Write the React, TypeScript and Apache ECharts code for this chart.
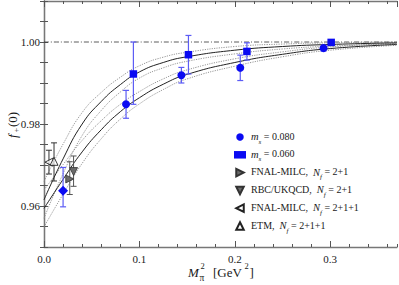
import React, { useEffect, useRef } from "react";
import * as echarts from "echarts";

const FONT = "Liberation Serif";

// ---- data ----
const ms080X = [0.02, 0.086, 0.144, 0.2057, 0.293];
const ms080Y = [0.9637, 0.9848, 0.9919, 0.9937, 0.9985];
const ms080Lo = [0.9598, 0.9814, 0.99, 0.9906, 0.9978];
const ms080Hi = [0.9694, 0.9882, 0.9938, 0.9968, 0.9992];

const ms060X = [0.0937, 0.1514, 0.2127, 0.301];
const ms060Y = [0.9922, 0.9969, 0.9977, 0.9999];
const ms060Lo = [0.9848, 0.9922, 0.9956, 0.9995];
const ms060Hi = [1.0, 1.0016, 0.9998, 1.0003];

const fnal21X = [0.027];
const fnal21Y = [0.9666];
const fnal21Lo = [0.9628];
const fnal21Hi = [0.9708];

const rbcX = [0.031];
const rbcY = [0.9684];
const rbcLo = [0.9648];
const rbcHi = [0.9722];

const fnal211X = [0.0052];
const fnal211Y = [0.9707];
const fnal211Lo = [0.9678];
const fnal211Hi = [0.9736];

const etmX = [0.0105];
const etmY = [0.9709];
const etmLo = [0.9661];
const etmHi = [0.9754];

const curveX = [0, 0.02, 0.04, 0.06, 0.08, 0.1, 0.125, 0.15, 0.2, 0.25, 0.3, 0.37];
const fitLow = [0.9594, 0.9665, 0.9732, 0.9786, 0.983, 0.9864, 0.9897, 0.9921, 0.995, 0.997, 0.9984, 0.9994];
const fitLowUp = [0.9639, 0.9701, 0.976, 0.9808, 0.9848, 0.9879, 0.991, 0.9932, 0.9959, 0.9976, 0.9988, 0.9996];
const fitLowDn = [0.9549, 0.9629, 0.9704, 0.9764, 0.9812, 0.9849, 0.9884, 0.991, 0.9941, 0.9964, 0.998, 0.9992];
const fitHigh = [0.9615, 0.9715, 0.98, 0.9855, 0.9896, 0.9927, 0.995, 0.9964, 0.998, 0.9989, 0.9994, 0.9998];
const fitHighUp = [0.966, 0.9751, 0.9828, 0.9877, 0.9914, 0.9942, 0.9963, 0.9975, 0.9989, 0.9995, 0.9998, 1.0];
const fitHighDn = [0.957, 0.9679, 0.9772, 0.9833, 0.9878, 0.9912, 0.9937, 0.9953, 0.9971, 0.9983, 0.999, 0.9996];

const unityX = [0, 0.37];
const unityY = [1.0, 1.0];

const legendNames = ["ms080", "ms060", "fnal21", "rbc", "fnal211", "etm"];
const legendLabels: Record<string, string> = {
  ms080: "{i|m}{s|s}{n| = 0.080}",
  ms060: "{i|m}{s|s}{n| = 0.060}",
  fnal21: "{n|FNAL-MILC,  }{i|N}{s|f}{n| = 2+1}",
  rbc: "{n|RBC/UKQCD,  }{i|N}{s|f}{n| = 2+1}",
  fnal211: "{n|FNAL-MILC,  }{i|N}{s|f}{n| = 2+1+1}",
  etm: "{n|ETM,  }{i|N}{s|f}{n| = 2+1+1}",
};

const RIGHT_TRI = "path://M0,0L10,5L0,10Z";
const LEFT_TRI = "path://M10,0L0,5L10,10Z";
const DOWN_TRI = "path://M0,0L10,0L5,10Z";
const UP_TRI = "path://M5,0L10,10L0,10Z";

const BLUE = "#0a0af2";
const BLUE_ERR = "#5c5cf5";
const TEXT = "#1a1a1a";

function errorSeries(xs: number[], ys: number[], lo: number[], hi: number[], color: string, cap: number, width: number) {
  return {
    type: "custom",
    silent: true,
    z: 3,
    data: xs.map((x, i) => [x, ys[i], lo[i], hi[i]]),
    encode: { x: 0, y: 1 },
    renderItem: (params: any, api: any) => {
      const top = api.coord([api.value(0), api.value(3)]);
      const bot = api.coord([api.value(0), api.value(2)]);
      const h = cap / 2;
      const st = { stroke: color, lineWidth: width };
      return {
        type: "group",
        children: [
          { type: "line", shape: { x1: top[0], y1: top[1], x2: bot[0], y2: bot[1] }, style: st },
          { type: "line", shape: { x1: top[0] - h, y1: top[1], x2: top[0] + h, y2: top[1] }, style: st },
          { type: "line", shape: { x1: bot[0] - h, y1: bot[1], x2: bot[0] + h, y2: bot[1] }, style: st },
        ],
      };
    },
  };
}

function lineSeries(xs: number[], ys: number[], color: string, width: number, type: any) {
  return {
    type: "line",
    data: xs.map((x, i) => [x, ys[i]]),
    showSymbol: false,
    symbol: "none",
    smooth: 0.5,
    silent: true,
    z: 1,
    lineStyle: { color, width, type },
  };
}

export default function App() {
  const ref = useRef<HTMLDivElement>(null);
  useEffect(() => {
    if (!ref.current) return;
    const chart = echarts.init(ref.current, undefined, { renderer: "svg" });
    const axisLine = { show: true, lineStyle: { color: "#777", width: 1.3 } };
    const tickStyle = { color: "#555", width: 1 };
    const yFmt = (v: number) => {
      const c = Math.round(v * 100);
      if (Math.abs(v * 100 - c) < 1e-6 && c % 2 === 0 && c >= 96 && c <= 100) return (c / 100).toFixed(2);
      return "";
    };
    const txt = (text: string, x: number, y: number, size: number, italic = false) => {
      const style: any = { text, fontFamily: FONT, fontSize: size, fill: TEXT, verticalAlign: "middle" };
      if (italic) style.fontStyle = "italic";
      return { type: "text", x, y, style };
    };
    const option: any = {
      animation: false,
      textStyle: { fontFamily: FONT },
      grid: { left: 44, right: 2, top: 1, bottom: 38 },
      xAxis: [
        {
          type: "value", min: 0, max: 0.37, interval: 0.1, position: "bottom",
          axisLine, splitLine: { show: false },
          axisTick: { show: true, inside: true, length: 6, lineStyle: tickStyle },
          axisLabel: { margin: 6, fontFamily: FONT, fontSize: 11, color: TEXT, formatter: (v: number) => v.toFixed(1), showMaxLabel: false },
        },
        {
          type: "value", min: 0, max: 0.37, interval: 0.02, position: "bottom",
          axisLine: { show: false }, splitLine: { show: false }, axisLabel: { show: false },
          axisTick: { show: true, inside: true, length: 3, lineStyle: tickStyle },
        },
        {
          type: "value", min: 0, max: 0.37, interval: 0.1, position: "top",
          axisLine, splitLine: { show: false }, axisLabel: { show: false },
          axisTick: { show: true, inside: true, length: 6, lineStyle: tickStyle },
        },
        {
          type: "value", min: 0, max: 0.37, interval: 0.02, position: "top",
          axisLine: { show: false }, splitLine: { show: false }, axisLabel: { show: false },
          axisTick: { show: true, inside: true, length: 3, lineStyle: tickStyle },
        },
      ],
      yAxis: [
        {
          type: "value", min: 0.95, max: 1.01, interval: 0.005, position: "left",
          axisLine, splitLine: { show: false },
          axisTick: { show: true, inside: true, length: 4, lineStyle: tickStyle },
          axisLabel: { margin: 4, fontFamily: FONT, fontSize: 11, color: TEXT, formatter: yFmt },
        },
        {
          type: "value", min: 0.95, max: 1.01, interval: 0.005, position: "right",
          axisLine, splitLine: { show: false }, axisLabel: { show: false },
          axisTick: { show: true, inside: true, length: 4, lineStyle: tickStyle },
        },
      ],
      legend: {
        orient: "vertical",
        left: 229,
        top: 126,
        itemWidth: 12,
        itemHeight: 7.5,
        itemGap: 3.8,
        selectedMode: false,
        data: legendNames,
        formatter: (name: string) => legendLabels[name],
        textStyle: {
          fontFamily: FONT,
          fontSize: 10,
          color: TEXT,
          rich: {
            n: { fontFamily: FONT, fontSize: 10, lineHeight: 12, verticalAlign: "top", color: TEXT },
            i: { fontFamily: FONT, fontSize: 10.5, fontStyle: "italic", lineHeight: 12, verticalAlign: "top", color: TEXT },
            s: { fontFamily: FONT, fontSize: 7, fontStyle: "italic", lineHeight: 7, padding: [7, 0, 0, 0], verticalAlign: "top", color: TEXT },
          },
        },
      },
      graphic: [
        txt("M", 188, 272, 13, true),
        txt("π", 199.5, 277.5, 9.5),
        txt("2", 200.5, 265.5, 8.5),
        txt("[GeV", 213, 272, 13),
        txt("2", 244.5, 266, 8.5),
        txt("]", 249.5, 272, 13),
        {
          type: "group", x: 12, y: 124, rotation: Math.PI / 2,
          children: [
            txt("f", -14, 0, 13, true),
            txt("+", -8.5, 4, 8.5),
            txt("(0)", -3, 0, 13),
          ],
        },
      ],
      series: [
        lineSeries(unityX, unityY, "#333", 0.8, [5, 2, 1, 2]),
        lineSeries(curveX, fitLowUp, "#8a8a8a", 0.9, [1.2, 1.2]),
        lineSeries(curveX, fitLowDn, "#8a8a8a", 0.9, [1.2, 1.2]),
        lineSeries(curveX, fitHighUp, "#8a8a8a", 0.9, [1.2, 1.2]),
        lineSeries(curveX, fitHighDn, "#8a8a8a", 0.9, [1.2, 1.2]),
        lineSeries(curveX, fitLow, "#222", 1, "solid"),
        lineSeries(curveX, fitHigh, "#222", 1, "solid"),
        errorSeries(ms080X, ms080Y, ms080Lo, ms080Hi, BLUE_ERR, 6, 1.2),
        errorSeries(ms060X, ms060Y, ms060Lo, ms060Hi, BLUE_ERR, 6, 1.2),
        errorSeries(fnal21X, fnal21Y, fnal21Lo, fnal21Hi, "#555", 6, 1),
        errorSeries(rbcX, rbcY, rbcLo, rbcHi, "#555", 6, 1),
        errorSeries(fnal211X, fnal211Y, fnal211Lo, fnal211Hi, "#333", 6, 1),
        errorSeries(etmX, etmY, etmLo, etmHi, "#333", 6, 1),
        {
          name: "ms080", type: "scatter", z: 5, symbol: "circle", symbolSize: 8,
          itemStyle: { color: BLUE, opacity: 1 },
          data: ms080X.map((x, i) => ({ value: [x, ms080Y[i]], symbol: i === 0 ? "diamond" : "circle", symbolSize: i === 0 ? 10 : 8 })),
        },
        {
          name: "ms060", type: "scatter", z: 5, symbol: "rect", symbolSize: 7.5,
          itemStyle: { color: BLUE, opacity: 1 },
          data: ms060X.map((x, i) => [x, ms060Y[i]]),
        },
        {
          name: "fnal21", type: "scatter", z: 5, symbol: RIGHT_TRI, symbolSize: 8,
          itemStyle: { color: "#6a6a6a", borderColor: "#333", borderWidth: 0.8, opacity: 1 },
          data: fnal21X.map((x, i) => [x, fnal21Y[i]]),
        },
        {
          name: "rbc", type: "scatter", z: 5, symbol: DOWN_TRI, symbolSize: 8,
          itemStyle: { color: "#6a6a6a", borderColor: "#333", borderWidth: 0.8, opacity: 1 },
          data: rbcX.map((x, i) => [x, rbcY[i]]),
        },
        {
          name: "fnal211", type: "scatter", z: 5, symbol: LEFT_TRI, symbolSize: 8,
          itemStyle: { color: "rgba(255,255,255,0.7)", borderColor: "#222", borderWidth: 0.9, opacity: 1 },
          data: fnal211X.map((x, i) => [x, fnal211Y[i]]),
        },
        {
          name: "etm", type: "scatter", z: 5, symbol: UP_TRI, symbolSize: 8,
          itemStyle: { color: "rgba(255,255,255,0.7)", borderColor: "#222", borderWidth: 0.9, opacity: 1 },
          data: etmX.map((x, i) => [x, etmY[i]]),
        },
      ],
    };
    chart.setOption(option);
    return () => chart.dispose();
  }, []);
  return <div ref={ref} style={{ width: 399, height: 285, position: "absolute", left: 0, top: 0, background: "#fff" }} />;
}
